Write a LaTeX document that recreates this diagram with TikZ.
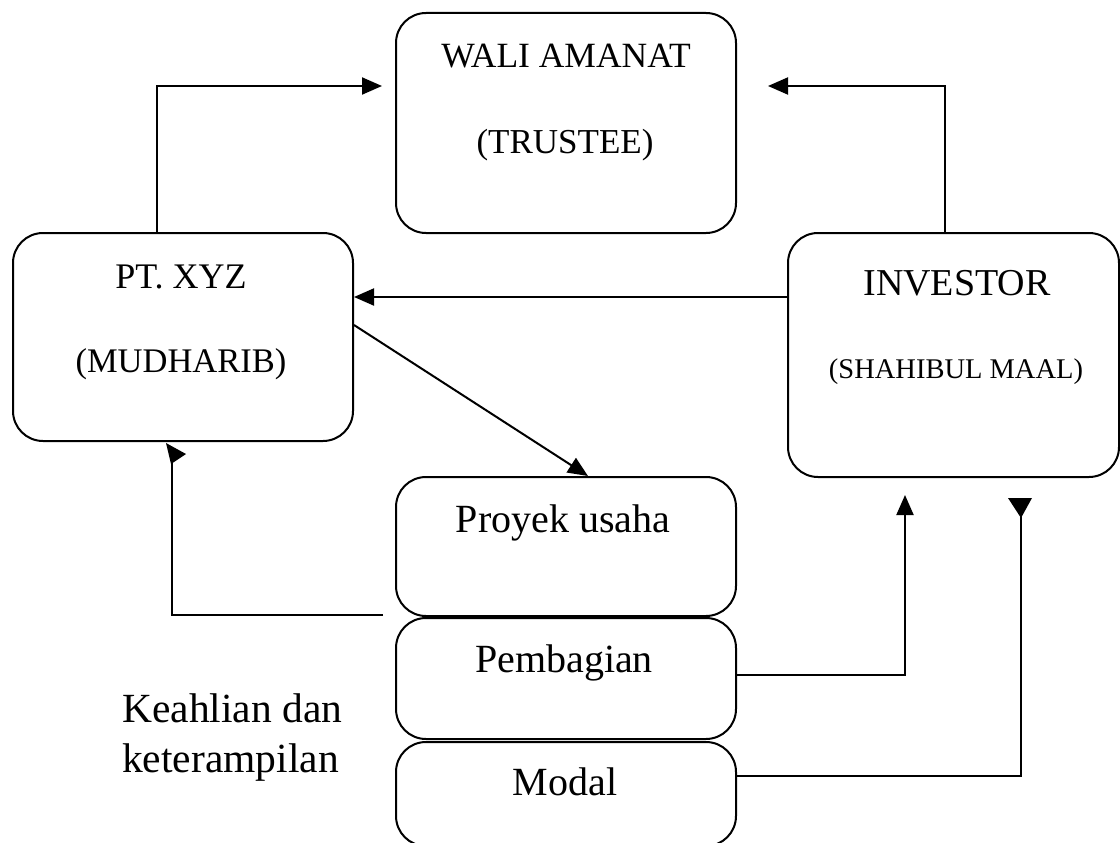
\documentclass[tikz,border=0pt]{standalone}
\usepackage{fontspec}
\setmainfont{Liberation Serif}
\usetikzlibrary{arrows.meta,calc}
\begin{document}
\begin{tikzpicture}[x=1pt,y=-1pt,
  box/.style={draw,line width=2pt,rounded corners=30pt,inner sep=0pt,anchor=north west},
  txt/.style={anchor=base,inner sep=0pt},
  conn/.style={line width=2pt},
  tip/.style={-{Triangle[length=20pt,width=17pt]}}
]
\useasboundingbox (0,0) rectangle (1120,843);
% boxes
\node[box,minimum width=340pt,minimum height=220pt] (wali) at (395,12) {};
\node[box,minimum width=340pt,minimum height=208pt] (pt) at (12,232) {};
\node[box,minimum width=331pt,minimum height=244pt] (inv) at (787,232) {};
\node[box,minimum width=340pt,minimum height=139pt] (proy) at (395,476) {};
\node[box,minimum width=340pt,minimum height=121pt] (bagi) at (395,617) {};
\node[box,minimum width=340pt,minimum height=104pt] (modal) at (395,741) {};
% texts
\node[txt,font=\fontsize{35.5}{40}\selectfont] (t1) at (566,67) {WALI AMANAT};
\node[txt,font=\fontsize{35}{40}\selectfont] (t2) at (565,153) {(TRUSTEE)};
\node[txt,font=\fontsize{36}{40}\selectfont] (t3) at (181,288) {PT. XYZ};
\node[txt,font=\fontsize{34.5}{40}\selectfont] (t4) at (181,372) {(MUDHARIB)};
\node[txt,font=\fontsize{38}{44}\selectfont] (t5) at (957,295) {INVESTOR};
\node[txt,font=\fontsize{28.5}{34}\selectfont] (t6) at (956,378) {(SHAHIBUL MAAL)};
\node[txt,font=\fontsize{40}{46}\selectfont] (t7) at (563,532) {Proyek usaha};
\node[txt,font=\fontsize{40}{46}\selectfont] (t8) at (564,672) {Pembagian};
\node[txt,font=\fontsize{40}{46}\selectfont] (t9) at (565,795) {Modal};
\node[anchor=base west,inner sep=0pt,font=\fontsize{41.5}{46}\selectfont] (t10) at (122,722) {Keahlian dan};
\node[anchor=base west,inner sep=0pt,font=\fontsize{41.5}{46}\selectfont] (t11) at (122,772) {keterampilan};
% connectors
\coordinate (c1) at (382,86);
\coordinate (c2) at (768,86);
\coordinate (c3) at (383,615);
\coordinate (c4) at (172,443);
\coordinate (c5) at (905,495);
\coordinate (c6) at (1021,500);
\draw[conn,tip] (pt.north -| 157,0) |- (c1);
\draw[conn,tip] (inv.north -| 945,0) |- (c2);
\draw[conn,tip] (inv.west |- 0,297) -- (pt.east |- 0,297);
\draw[conn,tip] (pt.east |- 0,325) -- (proy.north -| 588,0);
\draw[conn] (c3) -| ($(c4)+(0,14)$);
\fill (166,443) -- (186,454) -- (171,464) -- cycle;
\draw[conn,tip] (bagi.east |- 0,675) -| (c5);
\draw[conn] (modal.east |- 0,776) -| (c6);
\fill (1008,498) -- (1032,498) -- (1021,518) -- cycle;
\end{tikzpicture}
\end{document}
